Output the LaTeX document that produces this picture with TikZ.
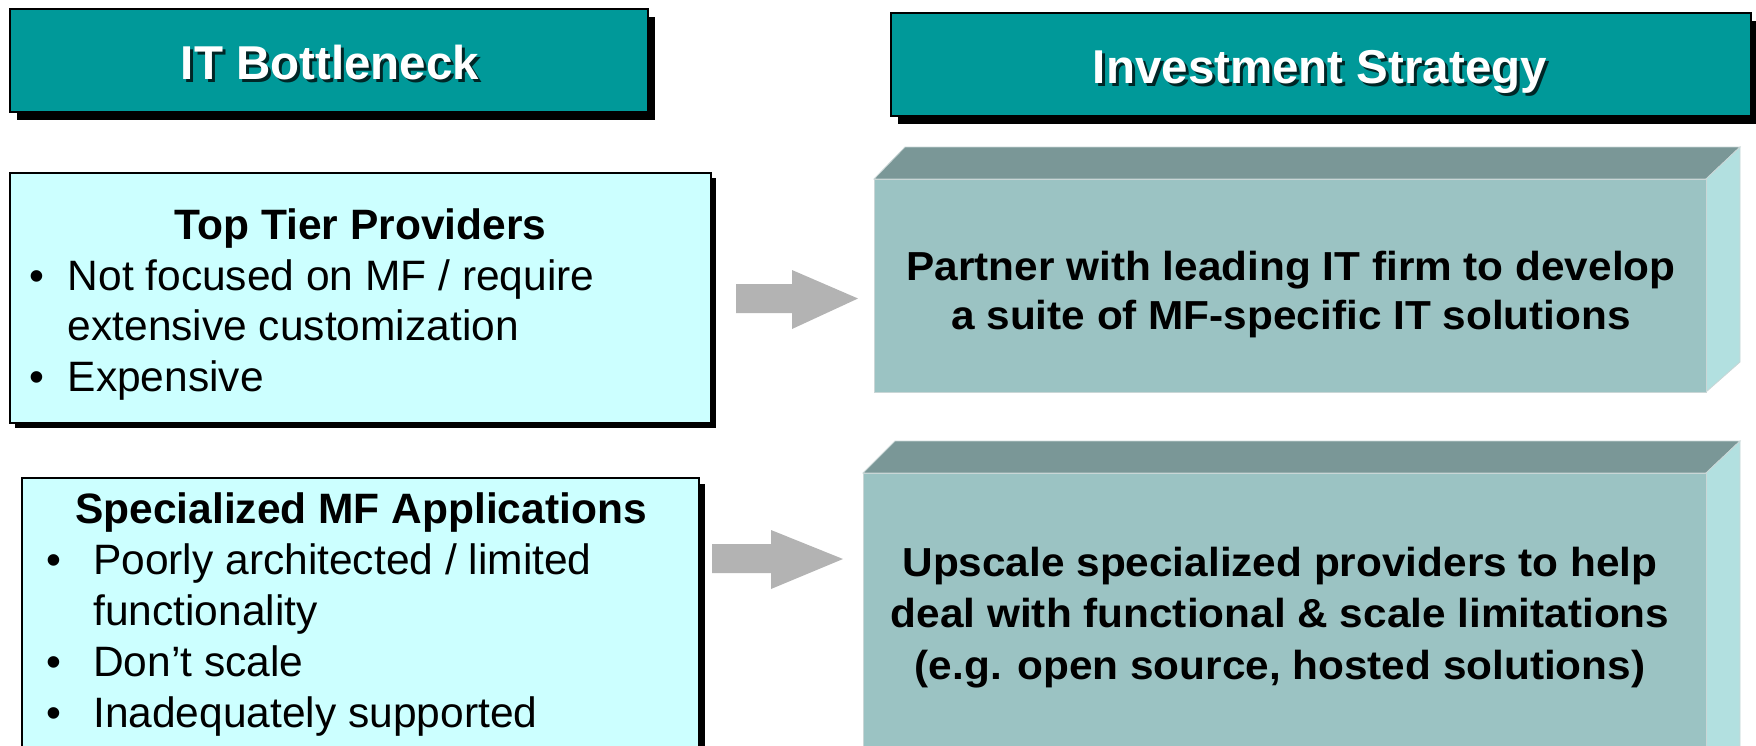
\documentclass[tikz,border=0pt]{standalone}
\usepackage{fontspec}
\setmainfont{Liberation Sans}
\definecolor{hdrteal}{HTML}{009999}
\definecolor{lightcyan}{HTML}{CCFFFF}
\definecolor{frontface}{HTML}{9BC3C3}
\definecolor{topface}{HTML}{7A9797}
\definecolor{sideface}{HTML}{B2E0E0}
\definecolor{edgegray}{HTML}{C9D6D6}
\definecolor{arrowgray}{HTML}{B3B3B3}
\newcommand\hdrfont{\fontsize{47.5}{57}\selectfont\bfseries}
\newcommand\bodyfont{\fontsize{42.5}{50}\selectfont}
\newcommand\stratfont{\fontsize{40.5}{48}\selectfont\bfseries}
\newcommand\wide[1]{\scalebox{1.045}[1]{#1}}
\tikzset{
  hdrbox/.style={draw=black, line width=1.6pt, fill=hdrteal, inner sep=0pt, outer sep=0pt},
  cyanbox/.style={draw=black, line width=1.6pt, fill=lightcyan, inner sep=0pt, outer sep=0pt},
  hdrtxt/.style={inner sep=0pt, font=\hdrfont, anchor=base},
  txtline/.style={inner sep=0pt, font=\bodyfont, anchor=base west},
  titleline/.style={inner sep=0pt, font=\bodyfont\bfseries, anchor=base},
  bulletmark/.style={inner sep=0pt, font=\bodyfont, anchor=base},
  stratline/.style={inner sep=0pt, font=\stratfont, anchor=base},
  blockarrow/.style={fill=arrowgray},
  shadowfill/.style={fill=black}
}
\begin{document}
\begin{tikzpicture}[x=1pt,y=-1pt]
\useasboundingbox (0,0) rectangle (1756,745);
\clip (0,0) rectangle (1756,745);

% ---------- headers ----------
\fill[shadowfill] (17,17) rectangle (655,120);
\node[hdrbox, minimum width=638pt, minimum height=103pt] (h1) at (329,60.5) {};
\node[hdrtxt, text=black, opacity=0.75] (h1s) at (333,82.5) {IT Bottleneck};
\node[hdrtxt, text=white] (h1t) at (330,79.5) {IT Bottleneck};

\fill[shadowfill] (898,21) rectangle (1760,124);
\node[hdrbox, minimum width=860pt, minimum height=103pt] (h2) at (1321,64.5) {};
\node[hdrtxt, text=black, opacity=0.75] (h2s) at (1323,86.3) {Investment Strategy};
\node[hdrtxt, text=white] (h2t) at (1320,83.3) {Investment Strategy};

% ---------- left box 1 ----------
\fill[shadowfill] (15,178) rectangle (716,428);
\node[cyanbox, minimum width=701pt, minimum height=250pt] (b1) at (360.5,298) {};
\node[titleline] (b1t) at (360.5,239.3) {Top Tier Providers};
\node[bulletmark] (b1d1) at (36.7,290) {\textbullet};
\node[txtline] (b1l1) at (67.5,290) {Not focused on MF / require};
\node[txtline] (b1l2) at (67.5,340.5) {extensive customization};
\node[bulletmark] (b1d2) at (36.7,391) {\textbullet};
\node[txtline] (b1l3) at (67.5,391) {Expensive};

% ---------- left box 2 ----------
\fill[shadowfill] (29,484) rectangle (705,770);
\node[cyanbox, minimum width=677pt, minimum height=290pt] (b2) at (360.5,623) {};
\node[titleline] (b2t) at (361,523) {Specialized MF Applications};
\node[bulletmark] (b2d1) at (53.5,574) {\textbullet};
\node[txtline] (b2l1) at (93,574) {Poorly architected / limited};
\node[txtline] (b2l2) at (93,625) {functionality};
\node[bulletmark] (b2d2) at (53.5,676.5) {\textbullet};
\node[txtline] (b2l3) at (93,676.5) {Don’t scale};
\node[bulletmark] (b2d3) at (53.5,727) {\textbullet};
\node[txtline] (b2l4) at (93,727) {Inadequately supported};

% ---------- block arrows ----------
\fill[blockarrow] (736,284) -- (792,284) -- (792,270) -- (858,298.5) -- (792,329) -- (792,313) -- (736,313) -- cycle;
\fill[blockarrow] (712,544) -- (771,544) -- (771,530) -- (843,559) -- (771,589) -- (771,573) -- (712,573) -- cycle;

% ---------- 3D box A ----------
\filldraw[fill=topface, draw=edgegray, line width=0.8pt] (874,179) -- (905,147) -- (1740,147) -- (1706,179) -- cycle;
\filldraw[fill=sideface, draw=edgegray, line width=0.8pt] (1706,179) -- (1740,147) -- (1740,362) -- (1706,392) -- cycle;
\node[fill=frontface, draw=edgegray, line width=0.8pt, inner sep=0pt, minimum width=832pt, minimum height=213pt] (sA) at (1290,285.5) {};
\node[stratline] (sA1) at (1291,280) {\wide{Partner with leading IT firm to develop}};
\node[stratline] (sA2) at (1291,329.5) {\wide{a suite of MF-specific IT solutions}};

% ---------- 3D box B ----------
\filldraw[fill=topface, draw=edgegray, line width=0.8pt] (863,473) -- (895,441) -- (1740,441) -- (1706,473) -- cycle;
\filldraw[fill=sideface, draw=edgegray, line width=0.8pt] (1706,473) -- (1740,441) -- (1740,760) -- (1706,790) -- cycle;
\node[fill=frontface, draw=edgegray, line width=0.8pt, inner sep=0pt, minimum width=843pt, minimum height=300pt] (sB) at (1284.5,623) {};
\node[stratline] (sB1) at (1280,576) {\wide{Upscale specialized providers to help}};
\node[stratline] (sB2) at (1280,627.5) {\wide{deal with functional \& scale limitations}};
\node[stratline] (sB3) at (1280,679) {\wide{(e.g. open source, hosted solutions)}};
\end{tikzpicture}
\end{document}
